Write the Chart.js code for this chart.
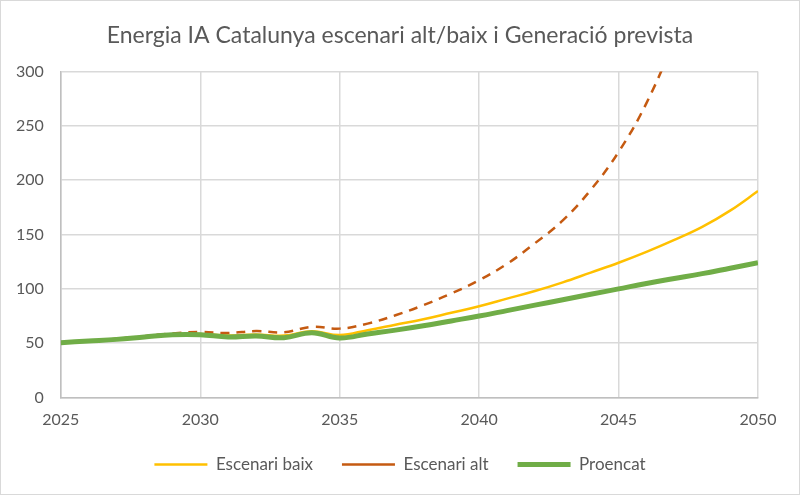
<!DOCTYPE html>
<html>
<head>
<meta charset="utf-8">
<script src="https://cdn.jsdelivr.net/npm/chart.js@4/dist/chart.umd.min.js"></script>
<style>
  html, body { margin:0; padding:0; background:#fff; }
  #wrap { width:800px; height:495px; box-sizing:border-box; border:1px solid #D9D9D9; }
</style>
</head>
<body>
<div id="wrap"><canvas id="grafic"></canvas></div>
<script>
var anys = [2025,2026,2027,2028,2029,2030,2031,2032,2033,2034,2035,2036,2037,2038,2039,2040,2041,2042,2043,2044,2045,2046,2047,2048,2049,2050];
var escenari_baix = [50.5,52,53.8,56,58.2,58.5,57,58,57,61,57.5,62,67,72,78,84,91,98,106,115,124,134,145,157,172,190];
var escenari_alt = [50.5,52,54,56.5,59,60.3,59.4,61.2,60,65,63.4,68,75.7,85,95.7,108,123,142,163,191,226,271,330,400,490,600];
var proencat = [50.5,52,53.5,55.7,57.8,57.8,55.7,56.6,55,59.7,54.8,58.5,62,66,70.5,75,80,85,90,95,100,105,109.5,114,119,124];
var ticks_y = [0,50,100,150,200,250,300];

function punts(valors){
  return anys.map(function(a,i){ return {x:a, y:valors[i]}; });
}

var gris = '#595959';
var ctx = document.getElementById('grafic');
new Chart(ctx, {
  type:'line',
  data:{
    datasets:[
      {
        label:'Escenari baix',
        data:punts(escenari_baix),
        borderColor:'#FFC000',
        backgroundColor:'#FFC000',
        borderWidth:2.5,
        pointRadius:0,
        tension:0.4,
        order:3
      },
      {
        label:'Escenari alt',
        data:punts(escenari_alt),
        borderColor:'#C55A11',
        backgroundColor:'#C55A11',
        borderWidth:2.5,
        borderDash:[9,7],
        pointRadius:0,
        tension:0.4,
        order:2
      },
      {
        label:'Proencat',
        data:punts(proencat),
        borderColor:'#70AD47',
        backgroundColor:'#70AD47',
        borderWidth:5,
        pointRadius:0,
        tension:0.4,
        order:1
      }
    ]
  },
  options:{
    responsive:true,
    maintainAspectRatio:false,
    animation:false,
    layout:{ padding:{ left:-2, right:-2, top:9, bottom:11 } },
    plugins:{
      title:{
        display:true,
        text:'Energia IA Catalunya escenari alt/baix i Generació prevista',
        color:gris,
        font:{ family:'Lato', size:23, weight:'normal' },
        padding:{ top:12, bottom:22 }
      },
      legend:{
        position:'bottom',
        labels:{
          color:gris,
          font:{ family:'Lato', size:17 },
          usePointStyle:true,
          pointStyle:'line',
          pointStyleWidth:53,
          padding:29,
          sort:function(a,b){ return a.datasetIndex - b.datasetIndex; }
        }
      },
      tooltip:{ enabled:false }
    },
    scales:{
      x:{
        type:'linear',
        min:2025, max:2050,
        ticks:{ stepSize:5, color:gris, font:{ family:'Lato', size:16 }, padding:13,
          callback:function(v){ return String(v); } },
        grid:{ color:'#D9D9D9', lineWidth:1.5, drawTicks:false },
        border:{ color:'#BFBFBF', width:1.5 },
        afterFit:function(ax){ ax.height = 29.5; }
      },
      y:{
        min:0, max:300,
        afterBuildTicks:function(ax){ ax.ticks = ticks_y.map(function(v){ return {value:v}; }); },
        ticks:{ color:gris, font:{ family:'Lato', size:16 }, padding:17 },
        grid:{ color:'#D9D9D9', lineWidth:1.5, drawTicks:false },
        border:{ color:'#BFBFBF', width:1.5 }
      },
      dreta:{
        position:'right',
        ticks:{ display:false },
        grid:{ display:false, drawTicks:false },
        border:{ display:false },
        afterFit:function(ax){ ax.width = 43; }
      }
    }
  }
});
</script>
</body>
</html>
